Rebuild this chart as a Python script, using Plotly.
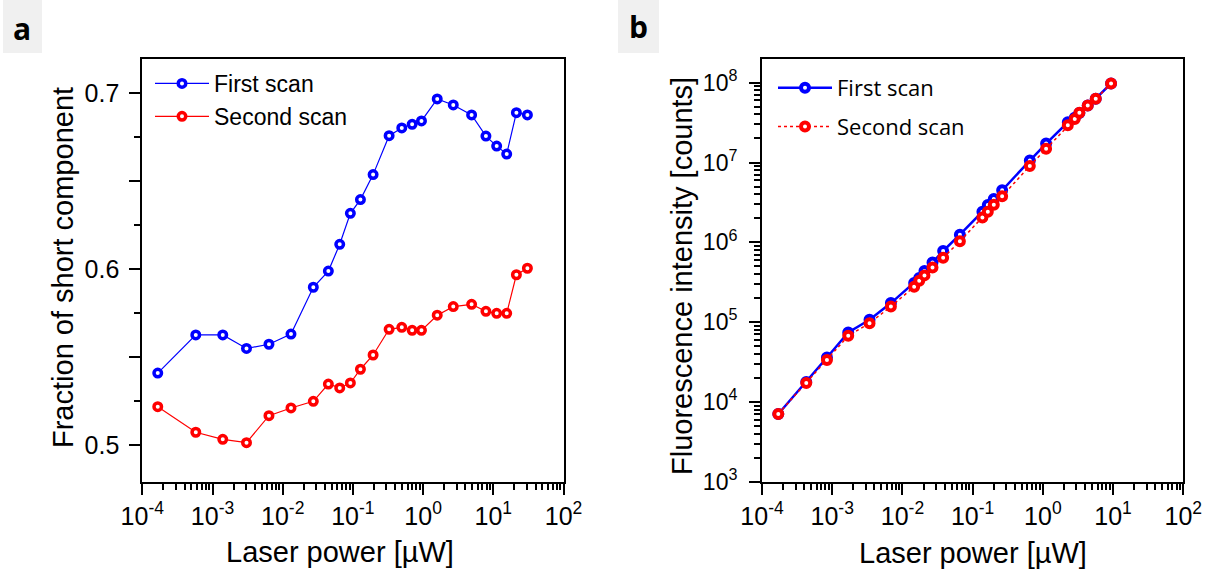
import plotly.graph_objects as go

# ---------------- data ----------------
# Panel a: fraction of short component vs laser power
power_a = [1.66e-4, 5.78e-4, 1.40e-3, 3.05e-3, 6.37e-3, 0.01312, 0.0273, 0.0447,
           0.0649, 0.0920, 0.128, 0.194, 0.328, 0.497, 0.698, 0.948,
           1.589, 2.69, 4.91, 7.85, 11.17, 15.52, 21.33, 30.6]
first_a = [0.541, 0.5627, 0.5627, 0.555, 0.5574, 0.5632, 0.5898, 0.599,
           0.6142, 0.6318, 0.6396, 0.6538, 0.6759, 0.6803, 0.6824, 0.6843,
           0.6968, 0.6934, 0.6877, 0.6757, 0.670, 0.6655, 0.689, 0.6877]
second_a = [0.5219, 0.5074, 0.5034, 0.5015, 0.5168, 0.5212, 0.525, 0.5348,
            0.5326, 0.5354, 0.5432, 0.5513, 0.5659, 0.567, 0.5653, 0.5653,
            0.5739, 0.5788, 0.5801, 0.5761, 0.575, 0.575, 0.5969, 0.6006]

# Panel b: fluorescence intensity vs laser power
power_b = [1.706e-4, 4.27e-4, 8.41e-4, 1.69e-3, 3.40e-3, 6.85e-3, 0.01469, 0.01734,
           0.0206, 0.0268, 0.0380, 0.0658, 0.1377, 0.1644, 0.200, 0.263,
           0.652, 1.112, 2.265, 2.844, 3.311, 4.355, 5.662, 9.354]
first_b = [7060, 17800, 36000, 74100, 107000, 173000, 308000, 356000,
           437000, 560000, 778000, 1.245e6, 2.42e6, 2.94e6, 3.49e6, 4.48e6,
           1.057e7, 1.726e7, 3.19e7, 3.63e7, 4.17e7, 5.18e7, 6.31e7, 9.77e7]
second_b = [7060, 17300, 33600, 67300, 97000, 157000, 277000, 330000,
            385000, 484000, 641000, 1.03e6, 2.04e6, 2.42e6, 2.96e6, 3.77e6,
            9.06e6, 1.49e7, 2.93e7, 3.52e7, 4.19e7, 5.17e7, 6.28e7, 9.77e7]

x_tickvals = [1e-4, 1e-3, 1e-2, 1e-1, 1e0, 1e1, 1e2]
x_ticktext = ["10<sup>-4</sup>", "10<sup>-3</sup>", "10<sup>-2</sup>", "10<sup>-1</sup>",
              "10<sup>0</sup>", "10<sup>1</sup>", "10<sup>2</sup>"]
ya_tickvals = [0.5, 0.55, 0.6, 0.65, 0.7]
ya_ticktext = ["0.5", "", "0.6", "", "0.7"]
ya_minor = [0.475, 0.525, 0.575, 0.625, 0.675, 0.725]
yb_tickvals = [1e3, 1e4, 1e5, 1e6, 1e7, 1e8]
yb_ticktext = ["10<sup>3</sup>", "10<sup>4</sup>", "10<sup>5</sup>", "10<sup>6</sup>",
               "10<sup>7</sup>", "10<sup>8</sup>"]
series_names = ["First scan", "Second scan"]

# minor tick positions on the log axes (2..9 within each decade)
x_minor = [m * d for d in x_tickvals[:-1] for m in range(2, 10)]
yb_minor = [m * d for d in yb_tickvals for m in range(2, 10)]

# ---------------- figure ----------------
W, H = 1211, 572
BLUE, RED = "#0000FF", "#FF0000"
ARIAL = "Liberation Sans, Arial, sans-serif"


def px(x):
    return x / W


def py(y):
    return 1 - y / H


fig = go.Figure()

fig.add_trace(go.Scatter(x=power_a, y=first_a, name=series_names[0], mode="lines+markers",
                         line=dict(color=BLUE, width=1.2),
                         marker=dict(symbol="circle", size=7.5, color="white",
                                     line=dict(color=BLUE, width=3.5)),
                         xaxis="x", yaxis="y", legend="legend"))
fig.add_trace(go.Scatter(x=power_a, y=second_a, name=series_names[1], mode="lines+markers",
                         line=dict(color=RED, width=1.2),
                         marker=dict(symbol="circle", size=7.5, color="white",
                                     line=dict(color=RED, width=3.5)),
                         xaxis="x", yaxis="y", legend="legend"))

fig.add_trace(go.Scatter(x=power_b, y=first_b, name=series_names[0], mode="lines+markers",
                         line=dict(color=BLUE, width=2.5),
                         marker=dict(symbol="circle", size=8, color="white",
                                     line=dict(color=BLUE, width=4)),
                         xaxis="x2", yaxis="y2", legend="legend2", legendgroup="g1"))
fig.add_trace(go.Scatter(x=power_b, y=second_b, name=series_names[1], mode="lines+markers",
                         line=dict(color=RED, width=1.5, dash="dot"),
                         marker=dict(symbol="circle", size=8, color="white",
                                     line=dict(color=RED, width=4)),
                         xaxis="x2", yaxis="y2", legend="legend2", legendgroup="g2"))

common = dict(showline=True, linecolor="black", linewidth=2, mirror=True,
              ticks="outside", ticklen=11, tickwidth=2, tickcolor="black",
              showgrid=False, zeroline=False, automargin=False)
minor_style = dict(ticks="outside", ticklen=6, tickwidth=1.5, tickcolor="black",
                   showgrid=False)

xlog = dict(type="log", range=[-4, 2], tickvals=x_tickvals, ticktext=x_ticktext,
            tickfont=dict(family=ARIAL, size=25, color="black"),
            minor=dict(tickmode="array", tickvals=x_minor, **minor_style),
            **common)

ya_top, ya_bot = 59, 481.7
fig.update_layout(
    width=W, height=H, autosize=False,
    margin=dict(l=0, r=0, t=0, b=0, pad=0, autoexpand=False),
    paper_bgcolor="white", plot_bgcolor="white",
    xaxis=dict(domain=[px(142.3), px(563.5)], anchor="y", **xlog),
    yaxis=dict(domain=[py(ya_bot), py(ya_top)], anchor="x", range=[0.4793, 0.7195],
               tickvals=ya_tickvals, ticktext=ya_ticktext, ticklabelstandoff=5,
               tickfont=dict(family=ARIAL, size=25, color="black"),
               minor=dict(tickmode="array", tickvals=ya_minor, **minor_style),
               **common),
    xaxis2=dict(domain=[px(762), px(1183.3)], anchor="y2", **xlog),
    yaxis2=dict(domain=[py(ya_bot), py(ya_top)], anchor="x2", type="log", range=[3, 8.297],
                tickvals=yb_tickvals, ticktext=yb_ticktext, ticklabelstandoff=7,
                tickfont=dict(family=ARIAL, size=23, color="black"),
                minor=dict(tickmode="array", tickvals=yb_minor, **minor_style),
                **common),
    legend=dict(x=px(150), y=py(62), xanchor="left", yanchor="top",
                font=dict(family=ARIAL, size=23, color="black"),
                bgcolor="rgba(0,0,0,0)", itemsizing="trace", itemwidth=54),
    legend2=dict(x=px(773), y=py(67), xanchor="left", yanchor="top",
                 font=dict(family="Open Sans, sans-serif", size=22, color="black"),
                 bgcolor="rgba(0,0,0,0)", tracegroupgap=7, itemsizing="trace",
                 itemwidth=54),
    showlegend=True,
)

# axis titles
title_font = dict(family=ARIAL, size=29, color="black")
fig.add_annotation(text="Laser power [µW]", x=px(340), y=py(552), xref="paper", yref="paper",
                   showarrow=False, font=title_font, xanchor="center", yanchor="middle")
fig.add_annotation(text="Laser power [µW]", x=px(973), y=py(553), xref="paper", yref="paper",
                   showarrow=False, font=title_font, xanchor="center", yanchor="middle")
fig.add_annotation(text="Fraction of short component", x=px(63), y=py(268), xref="paper",
                   yref="paper", showarrow=False, font=title_font, textangle=-90,
                   xanchor="center", yanchor="middle")
fig.add_annotation(text="Fluorescence intensity [counts]", x=px(682), y=py(276), xref="paper",
                   yref="paper", showarrow=False, font=title_font, textangle=-90,
                   xanchor="center", yanchor="middle")

# panel labels
for label, x0, x1, cx, cy in [("a", 3, 42, 22, 28), ("b", 618, 659, 638, 27)]:
    fig.add_shape(type="rect", xref="paper", yref="paper", x0=px(x0), x1=px(x1),
                  y0=py(53), y1=py(0), fillcolor="#F0F0F0", line=dict(width=0), layer="below")
    fig.add_annotation(text=f"<b>{label}</b>", x=px(cx), y=py(cy), xref="paper", yref="paper",
                       showarrow=False, font=dict(family="Open Sans, sans-serif", size=30,
                                                  color="black"),
                       xanchor="center", yanchor="middle")

fig.write_html("out.html", config={"displayModeBar": False, "responsive": False})

# remove the default page margin so the figure sits at the window origin
with open("out.html", "r", encoding="utf-8") as f:
    html = f.read()
html = html.replace("<head>", "<head><style>html,body{margin:0;padding:0;overflow:hidden;}</style>", 1)
with open("out.html", "w", encoding="utf-8") as f:
    f.write(html)
